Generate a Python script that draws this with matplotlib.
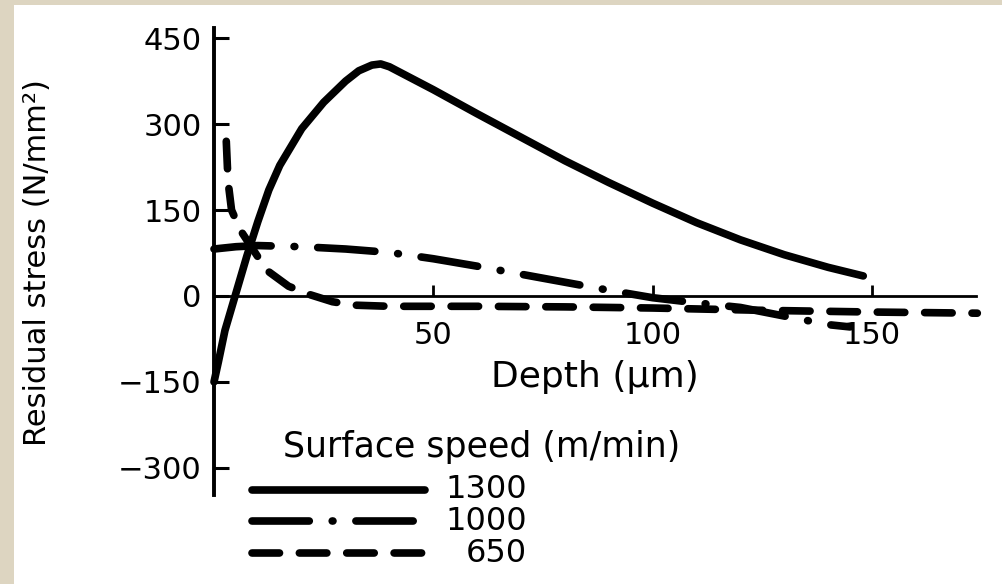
import matplotlib
matplotlib.use("Agg")
import matplotlib.pyplot as plt
from matplotlib.lines import Line2D
from matplotlib.patches import Rectangle

# ---- data ----
depth_1300 = [0, 1, 2.5, 5, 7.5, 10, 12.5, 15, 20, 25, 30, 33, 36, 38, 40, 45, 50, 60, 70, 80, 90, 100, 110, 120, 130, 140, 148]
stress_1300 = [-150, -115, -60, 5, 70, 130, 185, 228, 292, 338, 375, 393, 403, 405, 400, 380, 360, 318, 277, 236, 198, 162, 128, 98, 72, 50, 35]

depth_1000 = [0, 5, 10, 20, 30, 40, 50, 60, 70, 80, 90, 100, 110, 120, 130, 140, 145]
stress_1000 = [82, 86, 88, 86, 82, 76, 65, 52, 38, 24, 10, -3, -12, -20, -35, -50, -54]

depth_650 = [2.8, 3.2, 4, 6, 9, 12, 17, 22, 27, 32, 40, 60, 80, 100, 125, 150, 174]
stress_650 = [270, 200, 150, 115, 80, 45, 17, 2, -10, -16, -18, -18, -19, -21, -25, -28, -30]

series = [
    ("1300", depth_1300, stress_1300),
    ("1000", depth_1000, stress_1000),
    ("650", depth_650, stress_650),
]

ytick_vals = [450, 300, 150, 0, -150, -300]
ytick_labels = ["450", "300", "150", "0", "\u2212150", "\u2212300"]
xtick_vals = [50, 100, 150]
xtick_labels = ["50", "100", "150"]

ylabel = "Residual stress (N/mm\u00b2)"
xlabel = "Depth (\u03bcm)"
legend_title = "Surface speed (m/min)"

# ---- styles ----
FONT = "DejaVu Sans"
W, H = 1003, 584
LW = 5.5
styles = {
    "1300": dict(linestyle="-", solid_capstyle="round"),
    "1000": dict(linestyle=(0, (7.5, 3.0, 0.1, 3.0)), dash_capstyle="round"),
    "650": dict(linestyle=(0, (3.6, 2.6)), dash_capstyle="round"),
}

fig = plt.figure(figsize=(W / 100, H / 100), dpi=100, facecolor="white")

# scanned page border
fig.add_artist(Rectangle((0, 0), 14 / W, 1, transform=fig.transFigure, facecolor="#ddd5c1", edgecolor="none", zorder=-5))
fig.add_artist(Rectangle((0, 1 - 5 / H), 1, 5 / H, transform=fig.transFigure, facecolor="#ddd5c1", edgecolor="none", zorder=-5))

ax_left, ax_right, ax_top, ax_bot = 214, 976, 28, 495
ax = fig.add_axes([ax_left / W, 1 - ax_bot / H, (ax_right - ax_left) / W, (ax_bot - ax_top) / H])
ax.set_facecolor("none")
ax.set_xlim(0, 173.7)
ax.set_ylim(-347.3, 467.7)

for name, x, y in series:
    ax.plot(x, y, color="black", lw=LW, clip_on=False, **styles[name])

ax.spines["top"].set_visible(False)
ax.spines["right"].set_visible(False)
ax.spines["left"].set_linewidth(2.8)
ax.spines["bottom"].set_position(("data", 0))
ax.spines["bottom"].set_linewidth(2.0)

ax.set_yticks(ytick_vals)
ax.set_yticklabels(ytick_labels)
ax.set_xticks(xtick_vals)
ax.set_xticklabels(xtick_labels)
ax.tick_params(axis="y", direction="in", length=11, width=2.2, pad=9, labelsize=22)
ax.tick_params(axis="x", direction="in", length=8, width=2.0, pad=18, labelsize=22)
for lab in ax.get_xticklabels() + ax.get_yticklabels():
    lab.set_fontfamily(FONT)

fig.text(38 / W, 1 - 263 / H, ylabel, rotation=90, ha="center", va="center", fontsize=22, family=FONT)
fig.text(595 / W, 1 - 377 / H, xlabel, ha="center", va="center", fontsize=26, family=FONT)

# legend
fig.text(283 / W, 1 - 447 / H, legend_title, ha="left", va="center", fontsize=25, family=FONT)
leg_y = [490, 521, 553]
for (name, _, _), yy in zip(series, leg_y):
    fig.add_artist(Line2D([252 / W, 425 / W], [1 - yy / H, 1 - yy / H], transform=fig.transFigure,
                          color="black", lw=LW, **styles[name]))
    fig.text(527 / W, 1 - yy / H, name, ha="right", va="center", fontsize=23, family=FONT)

fig.savefig("out.png", dpi=100)
